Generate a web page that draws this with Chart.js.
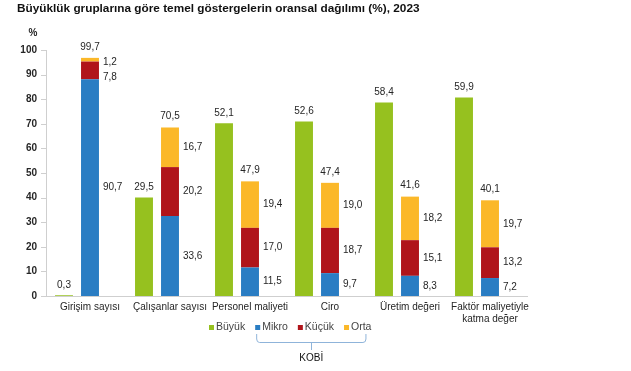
<!DOCTYPE html>
<html>
<head>
<meta charset="utf-8">
<script src="https://cdn.jsdelivr.net/npm/chart.js"></script>
<style>
  body { margin: 0; background: #fff; }
  #wrap { width: 631px; height: 371px; position: relative; }
</style>
</head>
<body>
<div id="wrap"><canvas id="myChart"></canvas></div>
<script>
var chartTitle = "Büyüklük gruplarına göre temel göstergelerin oransal dağılımı (%), 2023";
var categories = ["Girişim sayısı", "Çalışanlar sayısı", "Personel maliyeti", "Ciro", "Üretim değeri", ["Faktör maliyetiyle", "katma değer"]];
var yTicks = [0, 10, 20, 30, 40, 50, 60, 70, 80, 90, 100];

// bar heights as drawn in the picture
var buyuk = [0.3, 40.0, 70.2, 70.9, 78.7, 80.7];
var mikro = [88.1, 32.5, 11.6, 9.3, 8.2, 7.3];
var kucuk = [7.2, 19.9, 16.1, 18.4, 14.5, 12.5];
var orta = [1.5, 16.1, 18.9, 18.3, 17.7, 19.1];

// printed value labels
var buyukLbl = ["0,3", "29,5", "52,1", "52,6", "58,4", "59,9"];
var kobiLbl = ["99,7", "70,5", "47,9", "47,4", "41,6", "40,1"];
var mikroLbl = ["90,7", "33,6", "11,5", "9,7", "8,3", "7,2"];
var kucukLbl = ["7,8", "20,2", "17,0", "18,7", "15,1", "13,2"];
var ortaLbl = ["1,2", "16,7", "19,4", "19,0", "18,2", "19,7"];

var FONT = "'Liberation Sans', Arial, sans-serif";
var textColor = "#262626";
var axisColor = "#cfcfcf";

var segLabels = [null, mikroLbl, kucukLbl, ortaLbl];

var valueLabels = {
  id: "valueLabels",
  afterDatasetsDraw: function (chart) {
    var ctx = chart.ctx;
    ctx.save();
    ctx.font = "10px " + FONT;
    ctx.fillStyle = textColor;
    ctx.textBaseline = "middle";
    for (var i = 0; i < categories.length; i++) {
      var b = chart.getDatasetMeta(0).data[i];
      ctx.textAlign = "center";
      ctx.fillText(buyukLbl[i], b.x, b.y - 10);
      var top = chart.getDatasetMeta(3).data[i];
      var prev = top.y - 11;
      ctx.fillText(kobiLbl[i], top.x, prev);
      ctx.textAlign = "left";
      [3, 2, 1].forEach(function (d) {
        var el = chart.getDatasetMeta(d).data[i];
        var y = (el.y + el.base) / 2;
        if (y < prev + 15) y = prev + 15;
        ctx.fillText(segLabels[d][i], el.x + el.width / 2 + 4, y);
        prev = y;
      });
    }
    ctx.restore();
  }
};

var extras = {
  id: "extras",
  afterDraw: function (chart) {
    var ctx = chart.ctx, a = chart.chartArea, ys = chart.scales.y;
    ctx.save();
    // title
    ctx.font = "bold 11.8px " + FONT;
    ctx.fillStyle = "#111";
    ctx.textAlign = "left";
    ctx.textBaseline = "middle";
    ctx.fillText(chartTitle, 17, 9);
    // % unit
    ctx.font = "bold 10px " + FONT;
    ctx.fillStyle = textColor;
    ctx.textAlign = "center";
    ctx.fillText("%", 33, 33);
    // axes
    var ax = a.left - 4;
    ctx.strokeStyle = axisColor;
    ctx.lineWidth = 1;
    ctx.beginPath();
    ctx.moveTo(ax + 0.5, ys.getPixelForValue(100));
    ctx.lineTo(ax + 0.5, ys.getPixelForValue(0));
    yTicks.forEach(function (t) {
      var py = Math.round(ys.getPixelForValue(t)) + 0.5;
      ctx.moveTo(ax - 5, py);
      ctx.lineTo(ax, py);
    });
    var by = Math.round(a.bottom) + 0.5;
    ctx.moveTo(ax, by);
    ctx.lineTo(a.right - 2, by);
    ctx.stroke();
    // legend
    ctx.font = "10.5px " + FONT;
    ctx.textAlign = "left";
    var x = 209, ly = 327.5, pos = [];
    chart.data.datasets.slice(0, 4).forEach(function (ds) {
      ctx.fillStyle = ds.backgroundColor;
      ctx.fillRect(x, ly - 2.5, 5, 5);
      ctx.fillStyle = "#444";
      var w = ctx.measureText(ds.label).width;
      ctx.fillText(ds.label, x + 7, ly);
      pos.push({ x: x, end: x + 7 + w });
      x = x + 7 + w + 10;
    });
    // KOBİ bracket
    var l = pos[1].x + 1, r = pos[3].end - 5, t = 334, bt = 342, mid = (l + r) / 2;
    ctx.strokeStyle = "#8fb4da";
    ctx.beginPath();
    ctx.moveTo(l + 0.5, t);
    ctx.lineTo(l + 0.5, bt - 3);
    ctx.quadraticCurveTo(l + 0.5, bt + 0.5, l + 3.5, bt + 0.5);
    ctx.lineTo(r - 3.5, bt + 0.5);
    ctx.quadraticCurveTo(r - 0.5, bt + 0.5, r - 0.5, bt - 3);
    ctx.lineTo(r - 0.5, t);
    ctx.moveTo(Math.round(mid) + 0.5, bt);
    ctx.lineTo(Math.round(mid) + 0.5, 350);
    ctx.stroke();
    ctx.font = "10px " + FONT;
    ctx.fillStyle = "#111";
    ctx.textAlign = "center";
    ctx.fillText("KOBİ", mid, 358);
    ctx.restore();
  }
};

var ch = document.getElementById("myChart");
new Chart(ch, {
  type: "bar",
  data: {
    labels: categories,
    datasets: [
      { label: "Büyük", data: buyuk, backgroundColor: "#96c11f", stack: "b" },
      { label: "Mikro", data: mikro, backgroundColor: "#2a7dc3", stack: "k" },
      { label: "Küçük", data: kucuk, backgroundColor: "#b0141a", stack: "k" },
      { label: "Orta", data: orta, backgroundColor: "#fbb829", stack: "k" },
      { label: "", data: categories.map(function () { return 0; }), backgroundColor: "rgba(0,0,0,0)", stack: "z" }
    ]
  },
  options: {
    responsive: true,
    maintainAspectRatio: false,
    animation: false,
    categoryPercentage: 0.975,
    barPercentage: 0.69,
    layout: { padding: { top: 50, right: 101, bottom: 0, left: 0 } },
    plugins: {
      legend: { display: false },
      title: { display: false },
      tooltip: { enabled: false }
    },
    scales: {
      x: {
        stacked: true,
        border: { display: false },
        grid: { display: false, drawTicks: false },
        afterFit: function (s) { s.height = 75; },
        ticks: {
          autoSkip: false,
          maxRotation: 0,
          padding: 5,
          color: textColor,
          font: { family: FONT, size: 10 }
        }
      },
      y: {
        stacked: true,
        min: 0,
        max: 100,
        border: { display: false },
        grid: { display: false, drawTicks: false },
        afterFit: function (s) { s.width = 50; },
        ticks: {
          stepSize: 10,
          padding: 13,
          color: textColor,
          font: { family: FONT, size: 10, weight: "bold" }
        }
      }
    }
  },
  plugins: [valueLabels, extras]
}); //end of chart
</script>
</body>
</html>
